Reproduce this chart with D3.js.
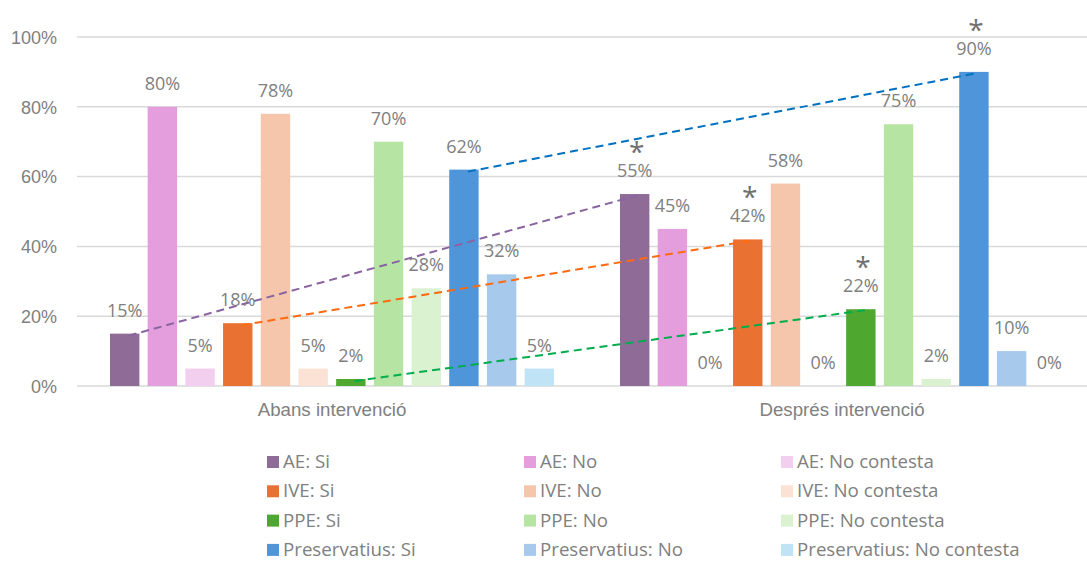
<!DOCTYPE html>
<meta charset="utf-8">
<style>
body { margin: 0; background: #fff; }
svg { display: block; font-family: "Open Sans", sans-serif; }
.axis text { font-size: 18px; fill: #808080; }
.axis--x text { font-size: 18.7px; }
.grid line { stroke: #d9d9d9; stroke-width: 1.5px; }
.label { font-size: 18px; fill: #808080; text-anchor: middle; }
.legend text { font-size: 18.7px; fill: #808080; }
</style>
<body>
<div id="chart"></div>
<script src="https://cdn.jsdelivr.net/npm/d3@7"></script>
<script>
var groups = ["Abans intervenció", "Després intervenció"];

var series = [
    "AE: Si", "AE: No", "AE: No contesta",
    "IVE: Si", "IVE: No", "IVE: No contesta",
    "PPE: Si", "PPE: No", "PPE: No contesta",
    "Preservatius: Si", "Preservatius: No", "Preservatius: No contesta"
];

var colors = [
    "#8f6b97", "#e49edd", "#f2cfee",
    "#e97132", "#f5c6ab", "#fbe2d5",
    "#4ea72e", "#b6e5a3", "#daf2d0",
    "#4e95d9", "#a7c9eb", "#c0e4f5"
];

// percentages, one value per series
var abans = [15, 80, 5, 18, 78, 5, 2, 70, 28, 62, 32, 5];
var despres = [55, 45, 0, 42, 58, 0, 22, 75, 2, 90, 10, 0];

var yTicks = [0, 20, 40, 60, 80, 100];

// dashed trend lines between the "Si" bars, and the series marked with *
var trendSeries = ["AE: Si", "IVE: Si", "PPE: Si", "Preservatius: Si"];
var trendColors = ["#8a64a0", "#ff6a10", "#00ad4c", "#0070c0"];
var starred = ["AE: Si", "IVE: Si", "PPE: Si", "Preservatius: Si"];

var values = [abans, despres];

var width = 1087,
    height = 563;

var svg = d3.select("#chart").append("svg")
    .attr("width", width)
    .attr("height", height);

var x0 = d3.scaleBand().domain(groups).range([77, 1097]);
var x1 = d3.scaleBand().domain(series).range([0, x0.bandwidth()])
    .paddingInner(0.22).paddingOuter(0.875);
var y = d3.scaleLinear().domain([0, 100]).range([386, 37]);

var color = d3.scaleOrdinal().domain(series).range(colors);

// gridlines
svg.append("g").attr("class", "grid")
    .selectAll("line")
    .data(yTicks)
    .enter().append("line")
    .attr("x1", 77).attr("x2", width)
    .attr("y1", function(d) { return y(d); })
    .attr("y2", function(d) { return y(d); });

// y axis labels
var yAxis = d3.axisLeft(y).tickValues(yTicks)
    .tickFormat(function(d) { return d + "%"; })
    .tickSize(0).tickPadding(20);
svg.append("g").attr("class", "axis")
    .attr("transform", "translate(77,0)")
    .call(yAxis)
    .call(function(g) { g.select(".domain").remove(); })
    .selectAll("text").attr("dy", "0.35em");

// x axis labels
var xAxis = d3.axisBottom(x0).tickSize(0).tickPadding(17);
svg.append("g").attr("class", "axis axis--x")
    .attr("transform", "translate(0,386)")
    .call(xAxis)
    .call(function(g) { g.select(".domain").remove(); });

// bars
var rows = [];
groups.forEach(function(g, gi) {
    series.forEach(function(s, si) {
        rows.push({ group: g, series: s, value: values[gi][si] });
    });
});

svg.append("g").selectAll("rect")
    .data(rows)
    .enter().append("rect")
    .attr("x", function(d) { return x0(d.group) + x1(d.series); })
    .attr("y", function(d) { return y(d.value); })
    .attr("width", x1.bandwidth())
    .attr("height", function(d) { return y(0) - y(d.value); })
    .attr("fill", function(d) { return color(d.series); });

// trend lines
function cx(g, s) { return x0(g) + x1(s) + x1.bandwidth() / 2; }

svg.append("g").selectAll("line")
    .data(trendSeries)
    .enter().append("line")
    .attr("x1", function(s) { return cx(groups[0], s) + 4; })
    .attr("y1", function(s) { return y(abans[series.indexOf(s)]) + 2; })
    .attr("x2", function(s) { return cx(groups[1], s) + 4; })
    .attr("y2", function(s) { return y(despres[series.indexOf(s)]) + 1; })
    .attr("stroke", function(s, i) { return trendColors[i]; })
    .attr("stroke-width", 2)
    .attr("stroke-dasharray", "8,5");

// value labels
svg.append("g").selectAll("text")
    .data(rows)
    .enter().append("text")
    .attr("class", "label")
    .attr("x", function(d) { return cx(d.group, d.series); })
    .attr("y", function(d) { return y(d.value) - 17; })
    .text(function(d) { return d.value + "%"; });

// asterisks
svg.append("g").selectAll("text")
    .data(starred)
    .enter().append("text")
    .attr("class", "label")
    .style("font-size", "28px")
    .style("fill", "#707070")
    .attr("x", function(s) { return cx(groups[1], s) + 2; })
    .attr("y", function(s) { return y(despres[series.indexOf(s)]) - 17 - 15; })
    .text("*");

// legend
var legend = svg.append("g").attr("class", "legend")
    .selectAll("g")
    .data(series)
    .enter().append("g")
    .attr("transform", function(d, i) {
        return "translate(" + (267 + (i % 3) * 257) + "," + (456 + Math.floor(i / 3) * 29.3) + ")";
    });

legend.append("rect")
    .attr("width", 12).attr("height", 12)
    .attr("fill", function(d) { return color(d); });

legend.append("text")
    .attr("x", 16).attr("y", 12)
    .text(function(d) { return d; });
</script>
</body>
